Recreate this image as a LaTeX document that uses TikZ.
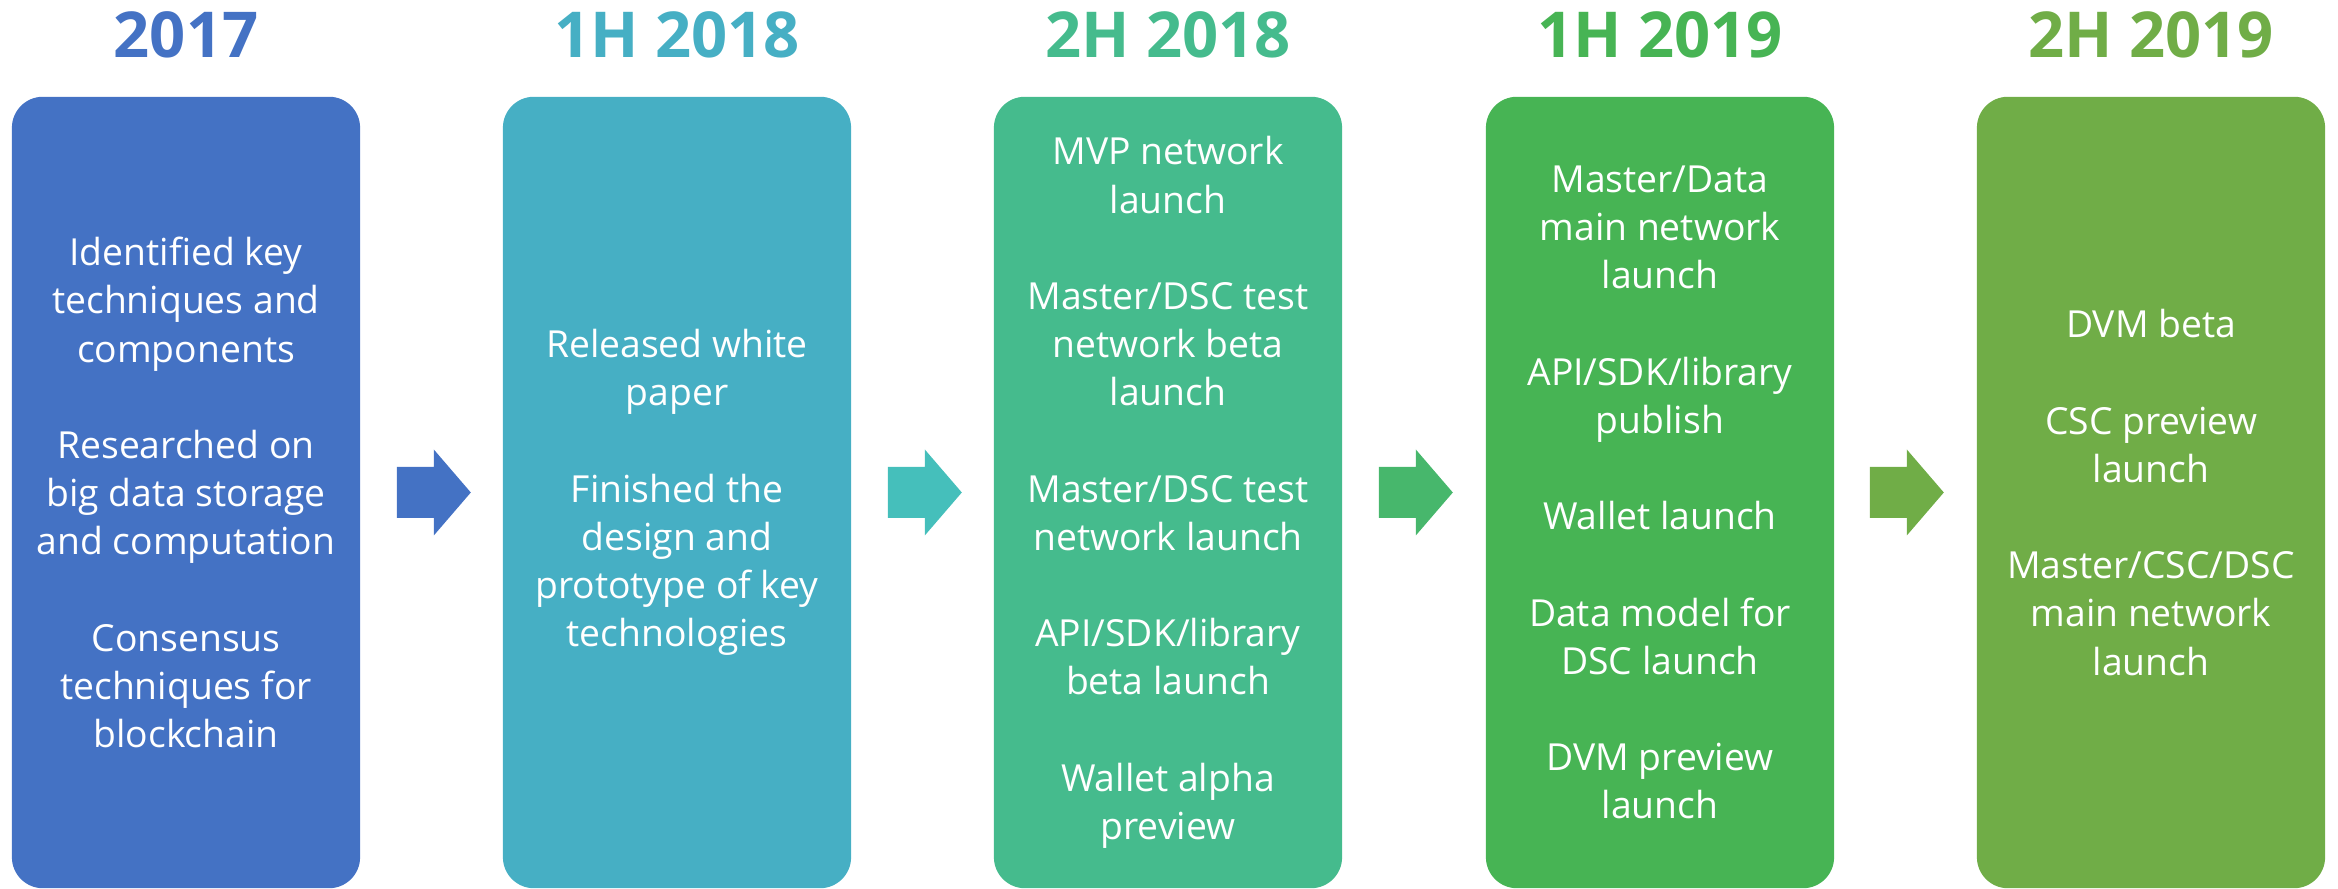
\documentclass[tikz,border=0pt]{standalone}
\usepackage{fontspec}
\setmainfont{Open Sans}
\usepackage{tikz}

\definecolor{stagecolA}{HTML}{4472C4}
\definecolor{stagecolB}{HTML}{46AFC4}
\definecolor{stagecolC}{HTML}{45BB8D}
\definecolor{stagecolD}{HTML}{47B454}
\definecolor{stagecolE}{HTML}{70AD47}
\definecolor{arrowcolB}{HTML}{45BFBB}
\definecolor{arrowcolC}{HTML}{47B76C}

\tikzset{
  stage/.style={rectangle, rounded corners=0.31cm, minimum width=3.48cm,
    minimum height=7.91cm, inner sep=0pt, text=white, align=center,
    font=\fontsize{10.6pt}{13.7pt}\selectfont},
  stagetitle/.style={anchor=base, font=\fontsize{18pt}{20pt}\selectfont\bfseries}
}

\begin{document}
\begin{tikzpicture}[x=0.01cm, y=-0.01cm]
  \useasboundingbox (0,0) rectangle (2338,889);

  \node[stagetitle,text=stagecolA] (title0) at (186,58) {2017};
  \node[stagetitle,text=stagecolB] (title1) at (677,58) {1H 2018};
  \node[stagetitle,text=stagecolC] (title2) at (1168,58) {2H 2018};
  \node[stagetitle,text=stagecolD] (title3) at (1660,58) {1H 2019};
  \node[stagetitle,text=stagecolE] (title4) at (2151,58) {2H 2019};

  \node[stage,fill=stagecolA] (stage0) at (186,492.5) {Identified key\\techniques and\\components\\[13.7pt]Researched on\\big data storage\\and computation\\[13.7pt]Consensus\\techniques for\\blockchain};
  \node[stage,fill=stagecolB] (stage1) at (677,492.5) {Released white\\paper\\[13.7pt]Finished the\\design and\\prototype of key\\technologies};
  \node[stage,fill=stagecolC] (stage2) at (1168,492.5) {MVP network\\launch\\[13.7pt]Master/DSC test\\network beta\\launch\\[13.7pt]Master/DSC test\\network launch\\[13.7pt]API/SDK/library\\beta launch\\[13.7pt]Wallet alpha\\preview};
  \node[stage,fill=stagecolD] (stage3) at (1660,492.5) {Master/Data\\main network\\launch\\[13.7pt]API/SDK/library\\publish\\[13.7pt]Wallet launch\\[13.7pt]Data model for\\DSC launch\\[13.7pt]DVM preview\\launch};
  \node[stage,fill=stagecolE] (stage4) at (2151,492.5) {DVM beta\\[13.7pt]CSC preview\\launch\\[13.7pt]Master/CSC/DSC\\main network\\launch};

  % block arrows between the stages
  \fill[stagecolA] ([shift={(36,-25.5)}]stage0.east) -- ++(37,0) -- ++(0,-17.5) -- ++(37,43) -- ++(-37,43) -- ++(0,-17.5) -- ++(-37,0) -- cycle;
  \fill[arrowcolB] ([shift={(36,-25.5)}]stage1.east) -- ++(37,0) -- ++(0,-17.5) -- ++(37,43) -- ++(-37,43) -- ++(0,-17.5) -- ++(-37,0) -- cycle;
  \fill[arrowcolC] ([shift={(36,-25.5)}]stage2.east) -- ++(37,0) -- ++(0,-17.5) -- ++(37,43) -- ++(-37,43) -- ++(0,-17.5) -- ++(-37,0) -- cycle;
  \fill[stagecolE] ([shift={(35,-25.5)}]stage3.east) -- ++(37,0) -- ++(0,-17.5) -- ++(37,43) -- ++(-37,43) -- ++(0,-17.5) -- ++(-37,0) -- cycle;

\end{tikzpicture}
\end{document}
